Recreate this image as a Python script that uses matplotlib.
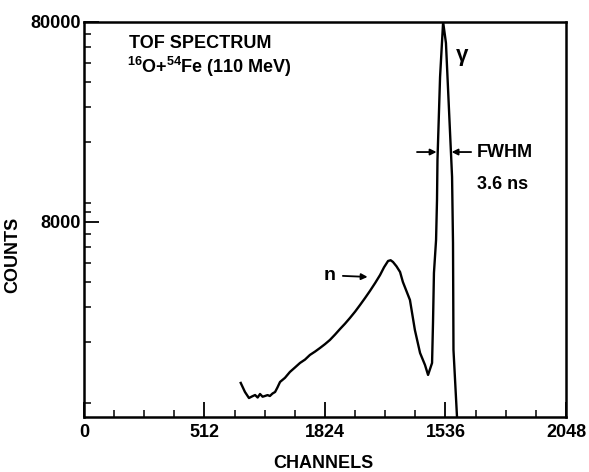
import numpy as np
import matplotlib
matplotlib.use("Agg")
import matplotlib.pyplot as plt
from matplotlib.ticker import FixedLocator, NullFormatter

# ================================
# Data
# ================================

channels = [666, 684, 701, 715, 727, 738, 748, 759, 769, 780, 790, 801, 812, 822, 833,
            854, 875, 897, 918, 939, 960, 982, 1003, 1024, 1045, 1067, 1088, 1109, 1130,
            1152, 1173, 1194, 1215, 1237, 1258, 1275, 1292, 1303, 1313, 1328, 1343,
            1355, 1385, 1406, 1428, 1449, 1462, 1479, 1483, 1487, 1496, 1500, 1502,
            1513, 1526, 1538, 1551, 1564, 1568, 1570, 1585]
counts = [1254, 1130, 1054, 1075, 1091, 1060, 1104, 1070, 1079, 1090, 1079, 1110, 1130, 1190, 1268,
          1330, 1423, 1500, 1579, 1640, 1731, 1800, 1876, 1960, 2057, 2190, 2334, 2480, 2649,
          2850, 3077, 3330, 3615, 3960, 4343, 4750, 5106, 5150, 5048, 4800, 4499,
          4010, 3260, 2307, 1771, 1542, 1375, 1578, 2501, 4449, 6505, 10300, 16330,
          42470, 80000, 62800, 29040, 13440, 6282, 1833, 847]

x_ticks = [0, 512, 1024, 1536, 2048]
x_labels = ["0", "512", "1824", "1536", "2048"]
x_minor = [128, 256, 384, 640, 768, 896, 1152, 1280, 1408, 1664, 1792, 1920]
y_ticks = [8000, 80000]
y_labels = ["8000", "80000"]
y_minor = [1000, 2000, 3000, 4000, 5000, 6000, 7000, 9000,
           10000, 20000, 30000, 40000, 50000, 60000, 70000]

# ================================
# Figure
# ================================

plt.rcParams['font.family'] = ['Liberation Sans', 'DejaVu Sans']
plt.rcParams['font.weight'] = 'bold'
plt.rcParams['mathtext.fontset'] = 'custom'
plt.rcParams['mathtext.bf'] = 'Liberation Sans:bold'
plt.rcParams['mathtext.rm'] = 'Liberation Sans:bold'
plt.rcParams['mathtext.default'] = 'bf'

fig = plt.figure(figsize=(5.89, 4.72), dpi=100)
ax = fig.add_axes([0.1426, 0.1165, 0.8183, 0.8369])

ax.plot(channels, counts, color='black', lw=1.7, solid_joinstyle='round')

ax.set_yscale('log')
ax.set_xlim(0, 2048)
ax.set_ylim(847, 80000)

ax.xaxis.set_major_locator(FixedLocator(x_ticks))
ax.set_xticklabels(x_labels)
ax.xaxis.set_minor_locator(FixedLocator(x_minor))
ax.yaxis.set_major_locator(FixedLocator(y_ticks))
ax.set_yticklabels(y_labels)
ax.yaxis.set_minor_locator(FixedLocator(y_minor))
ax.yaxis.set_minor_formatter(NullFormatter())

ax.tick_params(which='major', direction='in', length=11, width=1.3,
               labelsize=13, pad=5, top=False, right=False)
ax.tick_params(which='minor', direction='in', length=5, width=1.1,
               top=False, right=False)
ax.tick_params(axis='y', which='major', pad=2)
for sp in ax.spines.values():
    sp.set_linewidth(1.8)

ax.set_xlabel("CHANNELS", fontsize=13, fontweight='bold')
ax.xaxis.set_label_coords(0.496, -0.095)
ax.set_ylabel("COUNTS", fontsize=13, fontweight='bold')
ax.yaxis.set_label_coords(-0.13, 0.41)

# Annotations
ax.text(0.093, 0.935, "TOF SPECTRUM", transform=ax.transAxes,
        fontsize=13, fontweight='bold', va='baseline')
ax.text(0.09, 0.872, r"$^{16}$O+$^{54}$Fe (110 MeV)", transform=ax.transAxes,
        fontsize=13, fontweight='bold', va='baseline')
ax.text(0.784, 0.915, "γ", transform=ax.transAxes, fontsize=16,
        fontweight='bold', ha='center', va='center')

fwhm_y = 17900
ax.annotate("", xy=(1498, fwhm_y), xytext=(1415, fwhm_y),
            arrowprops=dict(arrowstyle='-|>', color='black', lw=1.3,
                            mutation_scale=9, shrinkA=0, shrinkB=0))
ax.annotate("", xy=(1562, fwhm_y), xytext=(1645, fwhm_y),
            arrowprops=dict(arrowstyle='-|>', color='black', lw=1.3,
                            mutation_scale=9, shrinkA=0, shrinkB=0))
ax.text(1668, fwhm_y, "FWHM", fontsize=13, fontweight='bold', va='center')
ax.text(1668, 12300, "3.6 ns", fontsize=13, fontweight='bold', va='center')

ax.text(1045, 4300, "n", fontsize=14, fontweight='bold', ha='center', va='center')
ax.annotate("", xy=(1205, 4250), xytext=(1100, 4300),
            arrowprops=dict(arrowstyle='-|>', color='black', lw=1.3,
                            mutation_scale=9, shrinkA=0, shrinkB=0))

fig.savefig("out.png", dpi=100)
